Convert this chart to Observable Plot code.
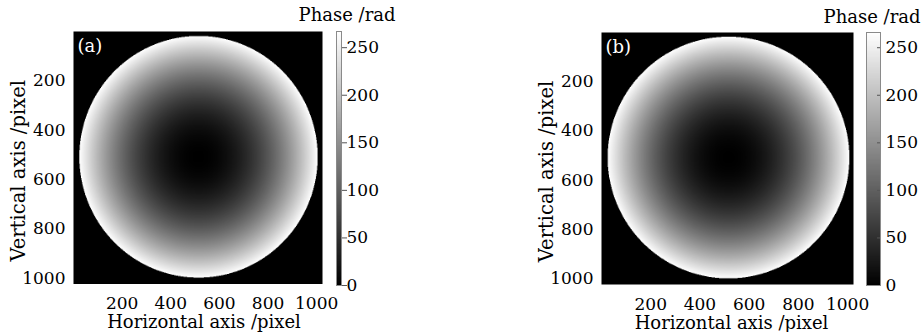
<!DOCTYPE html>
<html>
<head>
<meta charset="utf-8">
<script src="https://cdn.jsdelivr.net/npm/d3@7"></script>
<script src="https://cdn.jsdelivr.net/npm/@observablehq/plot@0.6"></script>
<style>
  html, body { margin: 0; padding: 0; background: #fff; }
  #chart { position: relative; width: 923px; height: 332px; background: #fff; overflow: hidden; }
  #chart svg { position: absolute; top: 0; }
</style>
</head>
<body>
<div id="chart"></div>
<script>
// ---- data ----
const panelLabels = ["(a)", "(b)"];
const gridSize = 1024;                         // pixels along each image axis
const axisTicks = [200, 400, 600, 800, 1000];  // x and y tick labels
const colorTicks = [0, 50, 100, 150, 200, 250];
const apertureCenterX = [514, 516];            // pixel
const apertureCenterY = [508, 508];            // pixel
const apertureRadius = [490, 491];             // pixel
const phaseMax = [267, 266];                   // rad, top of colour bar
const xLabel = "Horizontal axis /pixel";
const yLabel = "Vertical axis /pixel";
const colorLabel = "Phase /rad";

// ---- layout ----
const FONT = "'DejaVu Serif', 'Liberation Serif', serif";
const mainLayout = [
  {left: 0,   ml: 73, mr: 18, mt: 31, mb: 48.5, xdx: 6},
  {left: 528, ml: 73, mr: 15, mt: 32, mb: 48,   xdx: 4}
];
const barLayout = [
  {left: 290, width: 110, ml: 46, mr: 59, mt: 31, mb: 47, tdx: 8,  tdy: -16},
  {left: 800, width: 123, ml: 66, mr: 43, mt: 32, mb: 47, tdx: -1.5, tdy: -15}
];

const chart = document.getElementById("chart");
const fmt = d => String(d);

panelLabels.forEach((lab, i) => {
  const L = mainLayout[i];
  const color = {type: "linear", domain: [0, phaseMax[i]], range: ["black", "white"], interpolate: "rgb"};
  const phase = (x, y) => {
    const dx = x - apertureCenterX[i], dy = y - apertureCenterY[i];
    const r2 = (dx * dx + dy * dy) / (apertureRadius[i] * apertureRadius[i]);
    return r2 <= 1 ? phaseMax[i] * r2 : 0;
  };
  const main = Plot.plot({
    width: 340, height: 332,
    marginLeft: L.ml, marginRight: L.mr, marginTop: L.mt, marginBottom: L.mb,
    style: {fontFamily: FONT, fontSize: "17px", background: "transparent", color: "#000", overflow: "visible"},
    x: {domain: [0, gridSize], ticks: axisTicks, tickFormat: fmt, tickSize: 0, tickPadding: 13, label: null},
    y: {domain: [0, gridSize], reverse: true, ticks: axisTicks, tickFormat: fmt, tickSize: 0, tickPadding: 8, label: null},
    color,
    marks: [
      Plot.raster({x1: 0, y1: 0, x2: gridSize, y2: gridSize, width: 600, height: 600, fill: phase}),
      Plot.text([lab], {frameAnchor: "top-left", dx: 4, dy: 15, fill: "white", fontSize: 18, textAnchor: "start", lineAnchor: "middle"}),
      Plot.text([yLabel], {frameAnchor: "left", rotate: -90, dx: -55, dy: 13, fontSize: 19.5, fill: "#000", textAnchor: "middle", lineAnchor: "middle"}),
      Plot.text([xLabel], {frameAnchor: "bottom", dx: L.xdx, dy: 38.5, fontSize: 18, fill: "#000", textAnchor: "middle", lineAnchor: "middle"})
    ]
  });
  main.style.left = L.left + "px";
  chart.appendChild(main);

  const B = barLayout[i];
  const bar = Plot.plot({
    width: B.width, height: 332,
    marginLeft: B.ml, marginRight: B.mr, marginTop: B.mt, marginBottom: B.mb,
    style: {fontFamily: FONT, fontSize: "17px", background: "transparent", color: "#000", overflow: "visible"},
    x: {domain: [0, 1], axis: null},
    y: {domain: [0, phaseMax[i]], ticks: colorTicks, tickFormat: fmt, axis: "right", tickSize: 0, tickPadding: 5, label: null},
    color,
    marks: [
      Plot.raster({x1: 0, x2: 1, y1: 0, y2: phaseMax[i], width: 1, height: 300, fill: (x, y) => y}),
      Plot.tickY(colorTicks, {y: d => d, stroke: "#555", insetLeft: 11}),
      Plot.frame({stroke: "#8a8a8a"}),
      Plot.text([colorLabel], {frameAnchor: "top", dx: B.tdx, dy: B.tdy, fontSize: 18, fill: "#000", textAnchor: "middle", lineAnchor: "middle"})
    ]
  });
  bar.style.left = B.left + "px";
  chart.appendChild(bar);
});
</script>
</body>
</html>
